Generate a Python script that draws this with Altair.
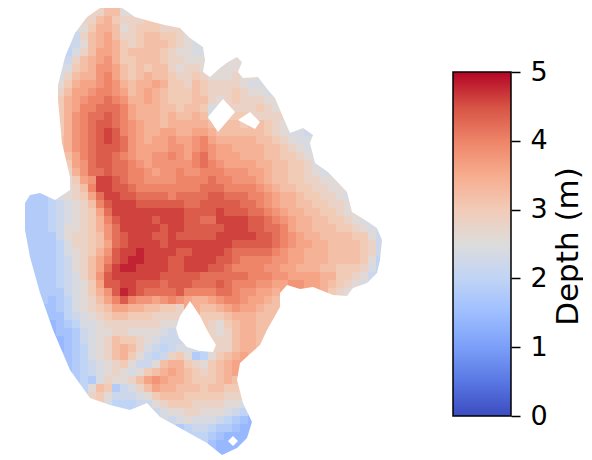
import altair as alt
import pandas as pd

# Depth code: index of the character in CODES times 0.2 m; "." means no data.
CODES = "0123456789abcdefghijklmnop"
STEP = 0.2
# (first column, codes) for each 8 px row, top to bottom
ROWS = [
    (11, "eggd"),
    (10, "eghfee"),
    (9, "dfhhgdefffee"),
    (8, "beghigeefggffed"),
    (8, "bdghihfefgggfedc"),
    (7, "acegiihfggggfeddcc"),
    (7, "beghijhffgggfeeddd...d"),
    (7, "cfghjjigfgfggedeed..dd"),
    (6, "ceghhjkigfghggfeefedddeddc"),
    (6, "dfhiijkjhghhihffegfeeeedcc"),
    (6, "egiijkkjighihgfffgfeeefeddc"),
    (6, "fhijkklkjhhihgfffggedefeeedd"),
    (6, "fhikklllkihhhggfggfc..eeefed"),
    (6, "fhjkllmlkihhhghgghg...ff.eee"),
    (6, "fhjklmmlkjihhghhhhhg.gg..gfed"),
    (6, "fhjklmnmkj" "ihhiihhiih" "ggggggfedccbb"),
    (6, "ghjklmnmlj" "ihiijiijki" "hhhhhggfedcc"),
    (7, "hjklmmmlj" "iiiijjijkj" "iihhhhggfedc"),
    (7, "giklmmlkj" "iijjkjiklj" "iiihhhggffedc"),
    (7, "fijlmmllk" "jijjjjjklk" "jiiiihhggffec"),
    (7, "ehjllmllk" "kjijjkjjkk" "kjjjiihggffedc"),
    (7, "dfijnnmlk" "kjjjjkkkkl" "kkjjjihggffeedd"),
    (7, "degknnmml" "kkkkkkkkll" "lkkkkjihggffeedd"),
    (3, "99acdefilnnmm" "llllkllllm" "mlllkkjihhgffeedc"),
    (2, "999abcdegkmnnn" "mmmmmmllmm" "mmmllkjihhggffeed"),
    (2, "999abcdefilnnn" "nnnnnnmmmm" "nmmmllkjihhggffed"),
    (2, "999abcdefhkmnn" "nnmnnnmmll" "nnnnmmlkjihhggffedc"),
    (2, "999abddefhjlnn" "nnnmnnmmmm" "mnnnmmllkihhgggffedc"),
    (2, "9999bdeefgjlmn" "nnmmnmmmmm" "nnnnnmmlkjihhggggffdb"),
    (2, "9999aceefgilmn" "nnnmnnnnnn" "nnmmmmmlkjiihhggggfeb"),
    (3, "999acdefhjmnn" "onnnnmmnnn" "nmlllllkjiihhhggggfeb"),
    (3, "999abdegikmno" "onnnmmnnnn" "mmlkkkkjjiihhhggggfda"),
    (3, "999abdegilnoo" "nnnnmmnnnm" "mlkkkkjjiihhhggfffeca"),
    (4, "99abcegjmnnn" "nnnmmmmmll" "llllkkkjjiiiihhffedb"),
    (4, "99abcdfimmnn" "mmmlmmmlll" "mlkkkjjiijjiihgfedc"),
    (4, "999bcdfhjmon" "mllllmkkkk" "llkjjiih" "......" "fed"),
    (5, "89acdegikmk" "jjijkjihhi" "jkkjiihg"),
    (5, "89acdefgiih" "hggffe.hgg" "hijiihgg"),
    (5, "88abcdefggf" "ffeeee..ff" "fghhhgg"),
    (5, "789accdeeee" "eeeddc...e" "dfghhgg"),
    (6, "889bcddeed" "dddcb....e" "deghhg"),
    (6, "789bcdegff" "edcbbb...." "eeghhg"),
    (7, "89acdeghg" "ecbabcc..." "eeghh"),
    (7, "89acdeghf" "dbabefd9ad" "fghi"),
    (7, "89abcdefd" "bbdghhfedf" "ghi"),
    (8, "9abcdedc" "dfghihgfef" "ghi"),
    (8, "9a9cedde" "gijihhgfff" "ghg"),
    (9, "adgf9bc" "egihhgggfg" "gff"),
    (10, "efdbbb" "cdfgggffff" "feee"),
    (12, "caaa" "bbdefffeee" "eddc"),
    (18, "bcddeedd" "dcba8"),
    (20, "bcdccc" "ba987"),
    (21, "9abba" "99877"),
    (23, "aa987777"),
    (25, "877.7"),
    (26, "77"),
]
OUTLINE = [(100,8),(110,8),(122,8),(128,12),(135,17),(153,22),(165,25),(180,28),(190,38),(203,47),
           (205,60),(203,72),(210,77),(220,68),(228,62),(237,57),(242,62),(238,72),(243,78),(258,77),
           (268,90),(275,98),(283,117),(290,133),(303,128),(313,135),(310,143),(315,163),(328,172),
           (347,192),(352,212),(365,220),(377,228),(382,240),(380,260),(377,273),(367,283),(353,288),
           (347,296),(333,295),(313,287),(300,289),(287,285),(280,293),(280,307),(267,330),(260,345),
           (240,363),(237,380),(243,403),(252,422),(247,438),(237,448),(222,455),(207,443),(180,428),
           (160,417),(147,403),(130,410),(110,405),(90,398),(70,370),(53,330),(40,293),(30,257),
           (25,230),(25,203),(30,195),(40,193),(55,200),(70,190),(70,177),(62,143),(58,100),(58,85),
           (65,57),(75,33),(87,17)]
GAP_A = [(223,99),(235,112),(218,132),(208,117)]
GAP_B = [(238,120),(250,112),(260,122),(255,129)]
GAP_C = [(190,301),(200,316),(208,332),(216,345),(213,352),(200,351),(187,347),(179,338),(176,328),(180,316)]
GAP_D = [(233,436),(238,441),(233,446),(228,441)]
PAGE = [(8,8),(8,456),(384,456),(384,8)]

COOLWARM = ["#3b4cc0", "#5977e3", "#7b9ff9", "#9ebeff", "#c0d4f5", "#dddcdc",
            "#f2cbb7", "#f7ac8e", "#ee8468", "#d65244", "#b40426"]
STOPS = [0, 0.5, 1, 1.5, 2, 2.5, 3, 3.5, 4, 4.5, 5]
TICKS = [0, 1, 2, 3, 4, 5]
FONT = "DejaVu Sans"

grid = {}
for r, (start, codes) in enumerate(ROWS):
    for i, ch in enumerate(codes):
        if ch != ".":
            grid[(start + i, r)] = CODES.index(ch) * STEP

# Extend the cells past the stepped edge; the outline mask trims them.
for _ in range(2):
    extra = {}
    for (c, r), v in grid.items():
        for nc, nr in ((c + 1, r), (c - 1, r), (c, r + 1), (c, r - 1)):
            if (nc, nr) not in grid and 0 <= nc < 47 and 0 <= nr < 56:
                extra.setdefault((nc, nr), v)
    grid.update(extra)

df = pd.DataFrame([{"c": c, "c2": c + 1, "r": r, "r2": r + 1, "depth": v}
                   for (c, r), v in grid.items()])


def ring(points):
    pts = [list(p) for p in points]
    return pts + [pts[0]]


mask = {"type": "Feature", "properties": {}, "geometry": {
    "type": "MultiPolygon",
    "coordinates": [
        [ring(PAGE), ring(OUTLINE)],
        [ring(GAP_A)], [ring(GAP_B)], [ring(GAP_C)], [ring(GAP_D)],
    ]}}

heat = alt.Chart(df).mark_rect(strokeWidth=0).encode(
    x=alt.X("c:Q", axis=None, scale=alt.Scale(domain=[0, 47], nice=False)),
    x2="c2:Q",
    y=alt.Y("r:Q", axis=None, scale=alt.Scale(domain=[56, 0], nice=False)),
    y2="r2:Q",
    color=alt.Color("depth:Q", legend=None,
                    scale=alt.Scale(domain=STOPS, range=COOLWARM, interpolate="rgb")),
)
trim = alt.Chart(alt.Data(values=[mask])).mark_geoshape(
    fill="white", strokeWidth=0
).project(type="identity", scale=1, translate=[-8, -8])

left = alt.layer(heat, trim).properties(width=376, height=448)

gradient = alt.Gradient(
    gradient="linear", x1=0, x2=0, y1=1, y2=0,
    stops=[alt.GradientStop(offset=s / 5, color=c) for s, c in zip(STOPS, COOLWARM)],
)
bar = alt.Chart(pd.DataFrame({"lo": [0], "hi": [5]})).mark_rect(
    color=gradient, stroke="black", strokeWidth=1.5
).encode(
    x=alt.value(0), x2=alt.value(58),
    y=alt.Y("lo:Q", scale=alt.Scale(domain=[0, 5], range=[408, 64], nice=False),
            axis=alt.Axis(orient="right", values=TICKS, format="d", title="Depth (m)",
                          domain=False, grid=False, tickSize=9, tickWidth=1.5,
                          tickColor="black", labelColor="black", titleColor="black",
                          labelFontSize=27, labelFont=FONT, labelPadding=10,
                          titleFont=FONT, titleFontSize=31, titleFontWeight="normal",
                          titleAngle=270, titleBaseline="alphabetic", titleAlign="center",
                          titleX=66, titleY=238)),
    y2="hi:Q",
).properties(width=58, height=448)

chart = alt.hconcat(left, bar, spacing=68).properties(
    padding=0, background="white"
).configure_view(stroke=None)

chart.save("out.html", embed_options={"renderer": "svg", "actions": False})
